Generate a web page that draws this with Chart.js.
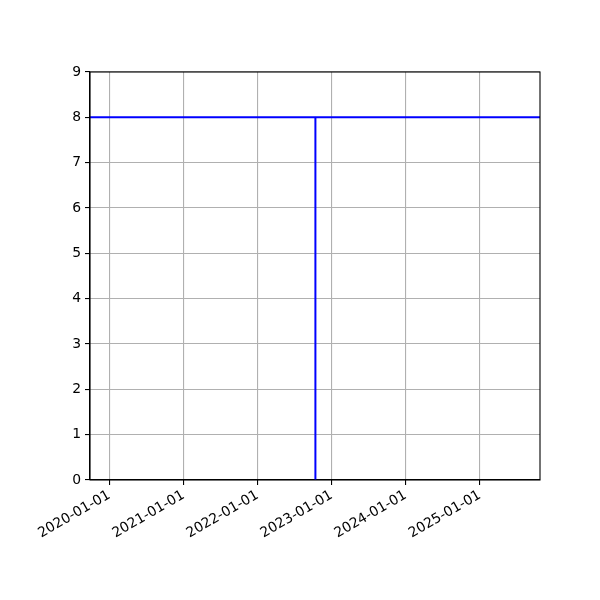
<!DOCTYPE html>
<html>
<head>
<meta charset="utf-8">
<script src="https://cdn.jsdelivr.net/npm/chart.js@4"></script>
<style>
html,body{margin:0;padding:0;background:#fff;}
#wrap{width:600px;height:600px;position:relative;}
</style>
</head>
<body>
<div id="wrap"><canvas id="c" width="600" height="600"></canvas></div>
<script>
// ---- data ----
const xLimits = ['2019-09-28', '2025-10-24'];
const yLimits = [0, 9];
const xTickDates = ['2020-01-01', '2021-01-01', '2022-01-01', '2023-01-01', '2024-01-01', '2025-01-01'];
const xTickLabels = ['2020-01-01', '2021-01-01', '2022-01-01', '2023-01-01', '2024-01-01', '2025-01-01'];
const hLineValue = 8;
const vLineDate = '2022-10-13';
const vLineRange = [0, 8];

const DAY = 86400000;
const t = s => Date.parse(s + 'T00:00:00Z');
const xMin = t(xLimits[0]), xMax = t(xLimits[1]);

const frame = {
  id: 'frame',
  afterDraw(chart) {
    const {ctx, chartArea: a} = chart;
    ctx.save();
    ctx.strokeStyle = '#000';
    ctx.lineWidth = 1.1;
    ctx.strokeRect(a.left, a.top, a.right - a.left, a.bottom - a.top);
    ctx.restore();
  }
};

const font = {family: 'DejaVu Sans', size: 13.9};

new Chart(document.getElementById('c'), {
  type: 'line',
  data: {
    datasets: [
      {
        data: [{x: xMin, y: hLineValue}, {x: xMax, y: hLineValue}],
        borderColor: '#0000ff', borderWidth: 2, pointRadius: 0, fill: false, tension: 0
      },
      {
        data: [{x: t(vLineDate), y: vLineRange[0]}, {x: t(vLineDate), y: vLineRange[1]}],
        borderColor: '#0000ff', borderWidth: 2, pointRadius: 0, fill: false, tension: 0
      }
    ]
  },
  options: {
    responsive: false,
    animation: false,
    devicePixelRatio: 1,
    layout: {padding: {top: 72, right: 60, left: 0, bottom: 0}},
    plugins: {legend: {display: false}, tooltip: {enabled: false}},
    scales: {
      x: {
        type: 'linear',
        min: xMin, max: xMax,
        afterBuildTicks(s) { s.ticks = xTickDates.map(d => ({value: t(d)})); },
        afterFit(s) { s.height = 120; },
        ticks: {
          font, color: '#000', padding: 2,
          minRotation: 30, maxRotation: 30, autoSkip: false,
          callback(v) { const i = xTickDates.findIndex(d => t(d) === v); return i >= 0 ? xTickLabels[i] : ''; }
        },
        grid: {color: '#b0b0b0', lineWidth: 1.1, tickColor: '#000', tickLength: 5, drawTicks: true},
        border: {color: '#000', width: 1.1}
      },
      y: {
        type: 'linear',
        min: yLimits[0], max: yLimits[1],
        afterFit(s) { s.width = 90; },
        ticks: {font, color: '#000', stepSize: 1, padding: 4},
        grid: {color: '#b0b0b0', lineWidth: 1.1, tickColor: '#000', tickLength: 5},
        border: {color: '#000', width: 1.1}
      }
    }
  },
  plugins: [frame]
});
</script>
</body>
</html>
